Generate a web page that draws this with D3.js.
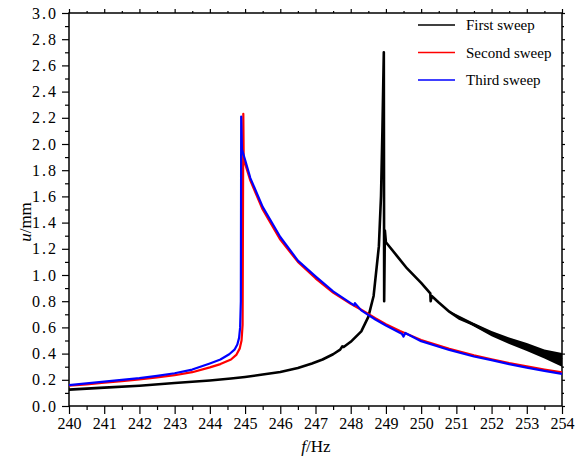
<!DOCTYPE html>
<meta charset="utf-8">
<style>
body { margin: 0; background: #fff; }
.tick line { stroke: #000; stroke-width: 1.2px; }
.domain { display: none; }
</style>
<svg width="582" height="466"></svg>
<script src="https://d3js.org/d3.v7.min.js"></script>
<script>

// first sweep (black)
var blackF = [240, 241, 242, 243, 244, 244.6, 245, 245.5, 246, 246.5, 246.9, 247.2, 247.5, 247.7, 247.76, 247.8, 248, 248.3, 248.5, 248.65, 248.8, 248.86, 248.9, 248.94, 248.95, 248.97, 249.0, 249.3, 249.6, 250.0, 250.26, 250.27, 250.3, 250.5, 250.8, 251.1, 251.5, 252, 252.5, 253, 253.5, 254];
var blackU = [0.125, 0.14, 0.155, 0.175, 0.195, 0.21, 0.222, 0.24, 0.26, 0.29, 0.325, 0.355, 0.395, 0.43, 0.455, 0.45, 0.49, 0.57, 0.68, 0.84, 1.22, 1.6, 2.1, 2.70, 0.80, 1.34, 1.25, 1.15, 1.05, 0.94, 0.86, 0.80, 0.84, 0.79, 0.72, 0.665, 0.62, 0.552, 0.50, 0.452, 0.40, 0.355];
// spread of the black trace at the high-frequency end
var bandF = [250.8, 251.5, 252, 252.5, 253, 253.5, 254];
var bandLo = [0.712, 0.606, 0.532, 0.474, 0.42, 0.362, 0.30];
var bandHi = [0.728, 0.634, 0.572, 0.522, 0.48, 0.432, 0.405];

// second sweep (red)
var redF = [240, 240.5, 241, 241.5, 242, 242.5, 243, 243.5, 244, 244.3, 244.6, 244.75, 244.85, 244.9, 244.93, 244.95, 244.96, 245.0, 245.15, 245.5, 246, 246.5, 247, 247.5, 248, 248.3, 248.7, 249.0, 249.4, 250, 250.8, 251.5, 252, 252.5, 253, 253.5, 254];
var redU = [0.155, 0.165, 0.178, 0.19, 0.203, 0.218, 0.235, 0.258, 0.295, 0.32, 0.355, 0.39, 0.44, 0.5, 0.62, 2.23, 1.9, 1.85, 1.72, 1.5, 1.27, 1.1, 0.975, 0.865, 0.78, 0.735, 0.67, 0.625, 0.572, 0.503, 0.437, 0.387, 0.357, 0.327, 0.302, 0.278, 0.257];

// third sweep (blue)
var blueF = [240, 240.5, 241, 241.5, 242, 242.5, 243, 243.5, 244, 244.3, 244.55, 244.7, 244.78, 244.83, 244.86, 244.88, 244.89, 244.91, 245.0, 245.15, 245.5, 246, 246.5, 247, 247.5, 248, 248.1, 248.12, 248.3, 248.7, 249.0, 249.45, 249.5, 249.55, 250, 250.8, 251.5, 252, 252.5, 253, 253.5, 254];
var blueU = [0.16, 0.172, 0.186, 0.2, 0.213, 0.23, 0.25, 0.278, 0.325, 0.355, 0.395, 0.43, 0.47, 0.52, 0.6, 0.8, 2.21, 1.96, 1.88, 1.74, 1.52, 1.29, 1.11, 0.99, 0.875, 0.785, 0.768, 0.785, 0.73, 0.66, 0.615, 0.552, 0.53, 0.558, 0.495, 0.428, 0.378, 0.35, 0.32, 0.293, 0.268, 0.245];

var xTicks = d3.range(240, 255, 1);
var yTicks = d3.range(0, 3.01, 0.2);
var legendNames = ["First sweep", "Second sweep", "Third sweep"];
var colors = ["#000000", "#ff0000", "#0000ff"];

var serif = "'Liberation Serif', 'Times New Roman', Times, 'DejaVu Serif', serif";

var svg = d3.select("svg");

var x = d3.scaleLinear().domain([240, 254]).range([69, 562]);
var y = d3.scaleLinear().domain([0, 3]).range([406, 13]);

var xMinor = d3.range(240.5, 254, 1);
var yMinor = d3.range(0.1, 3, 0.2);

// bottom axis
svg.append("g").attr("transform", "translate(0,406)")
    .call(d3.axisBottom(x).tickValues(xMinor).tickSize(4).tickFormat(""));
var gx = svg.append("g").attr("transform", "translate(0,406)")
    .call(d3.axisBottom(x).tickValues(xTicks).tickSize(8).tickFormat(d3.format("d")));
gx.attr("font-family", serif).attr("font-size", 16);
gx.selectAll("text").attr("y", 12);

// top axis
svg.append("g").attr("transform", "translate(0,13)")
    .call(d3.axisTop(x).tickValues(xTicks).tickSize(4).tickFormat(""));
svg.append("g").attr("transform", "translate(0,13)")
    .call(d3.axisTop(x).tickValues(xMinor).tickSize(2).tickFormat(""));

// left axis
svg.append("g").attr("transform", "translate(69,0)")
    .call(d3.axisLeft(y).tickValues(yMinor).tickSize(4).tickFormat(""));
var gy = svg.append("g").attr("transform", "translate(69,0)")
    .call(d3.axisLeft(y).tickValues(yTicks).tickSize(7).tickFormat(d3.format(".1f")));
gy.attr("font-family", serif).attr("font-size", 16);
gy.selectAll("text").attr("x", -11).style("letter-spacing", "2px");

// right axis
svg.append("g").attr("transform", "translate(562,0)")
    .call(d3.axisRight(y).tickValues(yTicks).tickSize(3).tickFormat(""));
svg.append("g").attr("transform", "translate(562,0)")
    .call(d3.axisRight(y).tickValues(yMinor).tickSize(2).tickFormat(""));

// frame
svg.append("rect")
    .attr("x", 69).attr("y", 13)
    .attr("width", 562 - 69).attr("height", 406 - 13)
    .attr("fill", "none").attr("stroke", "#000").attr("stroke-width", 1.5);

var line = d3.line()
    .x(function(d) { return x(d[0]); })
    .y(function(d) { return y(d[1]); });

function pairs(fs, us) {
  return fs.map(function(f, i) { return [f, us[i]]; });
}

var plot = svg.append("g");

plot.append("path")
    .datum(bandF.map(function(f, i) { return [f, bandLo[i], bandHi[i]]; }))
    .attr("fill", "#000")
    .attr("d", d3.area()
      .x(function(d) { return x(d[0]); })
      .y0(function(d) { return y(d[1]); })
      .y1(function(d) { return y(d[2]); }));

plot.append("path")
    .datum(pairs(blackF, blackU))
    .attr("fill", "none").attr("stroke", colors[0])
    .attr("stroke-width", 2.6).attr("stroke-linejoin", "round")
    .attr("d", line);

plot.append("path")
    .datum(pairs(redF, redU))
    .attr("fill", "none").attr("stroke", colors[1])
    .attr("stroke-width", 2.2).attr("stroke-linejoin", "round")
    .attr("d", line);

plot.append("path")
    .datum(pairs(blueF, blueU))
    .attr("fill", "none").attr("stroke", colors[2])
    .attr("stroke-width", 2.2).attr("stroke-linejoin", "round")
    .attr("d", line);

// legend
var legend = svg.append("g").attr("font-family", serif).attr("font-size", 15);
legendNames.forEach(function(name, i) {
  var ly = 25 + i * 27.5;
  legend.append("line")
      .attr("x1", 418).attr("x2", 455)
      .attr("y1", ly).attr("y2", ly)
      .attr("stroke", colors[i]).attr("stroke-width", 1.6);
  legend.append("text")
      .attr("x", 466).attr("y", ly + 5)
      .text(name);
});

// axis titles
var xt = svg.append("text")
    .attr("x", 316).attr("y", 452)
    .attr("text-anchor", "middle")
    .attr("font-family", serif).attr("font-size", 17);
xt.append("tspan").style("font-style", "italic").text("f");
xt.append("tspan").text("/Hz");

var yt = svg.append("text")
    .attr("transform", "translate(31,222) rotate(-90)")
    .attr("text-anchor", "middle")
    .attr("font-family", serif).attr("font-size", 17);
yt.append("tspan").style("font-style", "italic").text("u");
yt.append("tspan").text("/mm");

</script>
